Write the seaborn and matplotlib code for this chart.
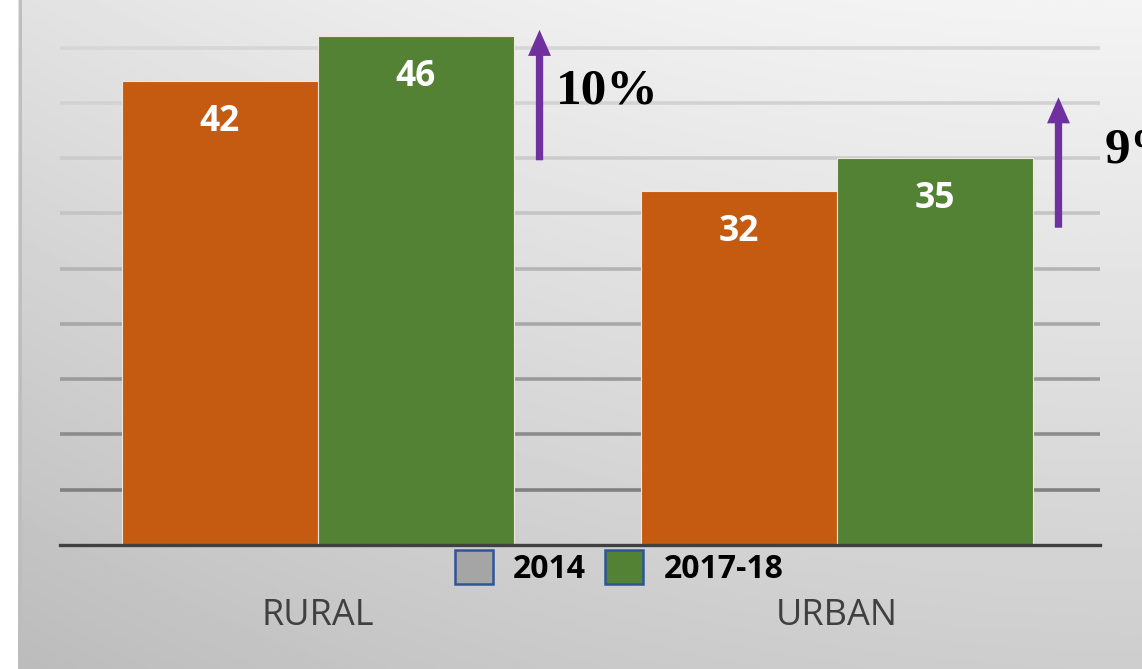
import numpy as np
import pandas as pd
import matplotlib
matplotlib.use('Agg')
import matplotlib.pyplot as plt
from matplotlib.patches import Patch, FancyArrowPatch
import seaborn as sns

areas = ['RURAL', 'URBAN']
years = ['2014', '2017-18']
pct_2014 = [42, 32]
pct_2018 = [46, 35]
growth_labels = ['10%', '9%']
# arrows next to each group (start / end on the value scale)
arrow_base = [34.8, 28.7]
arrow_tip = [46.6, 40.5]

bar_colors = ['#C55A11', '#548235']
legend_colors = ['#A5A5A5', '#548235']
grid_colors = ['#808080', '#8c8c8c', '#9a9a9a', '#a8a8a8', '#b4b4b4',
               '#c4c4c4', '#cccccc', '#d2d2d2', '#d6d6d6']

df = pd.DataFrame({
    'area': areas * 2,
    'year': [years[0]] * 2 + [years[1]] * 2,
    'pct': pct_2014 + pct_2018,
})

sns.set_style('white')
plt.rcParams['font.family'] = ['Open Sans', 'DejaVu Sans']

W, H = 1142, 669
fig = plt.figure(figsize=(W / 100, H / 100), dpi=100)
fig.patch.set_facecolor('white')

# grey gradient background (lighter top/right, darker bottom/left)
bg = fig.add_axes([18 / W, 0, 1 - 18 / W, 1], zorder=-1)
yy, xx = np.mgrid[0:1:300j, 0:1:600j]
shade = 0.955 - 0.15 * yy - 0.07 * (1 - xx) ** 2
bg.imshow(shade, cmap='gray', vmin=0, vmax=1, aspect='auto', extent=[0, 1, 0, 1])
bg.axvline(0.002, color='#bdbdbd', lw=2)
bg.set_axis_off()

ax = fig.add_axes([60 / W, 124 / H, 1040 / W, 545 / H])
ax.patch.set_visible(False)

sns.barplot(data=df, x='area', y='pct', hue='year', palette=bar_colors,
            width=0.755, saturation=1, edgecolor='#f0e6dc', linewidth=0.8,
            legend=False, ax=ax, zorder=3)

ax.set_xlim(-0.497, 1.507)
ax.set_ylim(0, 49.3)
ax.set_yticks(range(5, 50, 5))
ax.set_yticklabels([])
ax.grid(axis='y', lw=2.6, zorder=0)
for gl, c in zip(ax.get_ygridlines(), grid_colors):
    gl.set_color(c)
ax.set_axisbelow(True)

for s in ['top', 'left', 'right']:
    ax.spines[s].set_visible(False)
ax.spines['bottom'].set_color('#404040')
ax.spines['bottom'].set_linewidth(2.4)
ax.spines['bottom'].set_zorder(4)
ax.tick_params(axis='both', length=0)
ax.tick_params(axis='x', pad=38, labelsize=26, labelcolor='#404040')
ax.set_xlabel('')
ax.set_ylabel('')

# value labels inside bars
for cont in ax.containers:
    for p in cont:
        ax.annotate(f'{p.get_height():.0f}',
                    (p.get_x() + p.get_width() / 2, p.get_height()),
                    xytext=(0, -29.5), textcoords='offset points',
                    ha='center', va='center', color='white',
                    fontsize=25.5, fontweight='bold', zorder=5)

# growth arrows + labels
for i, (a, b) in enumerate(zip(arrow_base, arrow_tip)):
    x0 = i + 0.427
    arr = FancyArrowPatch((x0, a), (x0, b),
                          arrowstyle='simple,tail_width=0.35,head_width=1.1,head_length=1.25',
                          mutation_scale=15, color='#7030A0', lw=0,
                          shrinkA=0, shrinkB=0, clip_on=False, zorder=5)
    ax.add_patch(arr)

ax.text(0.458, 41.0, growth_labels[0], family='Liberation Serif', fontweight='bold',
        fontsize=37, ha='left', va='center', color='black', clip_on=False)
ax.text(1.515, 35.7, growth_labels[1], family='Liberation Serif', fontweight='bold',
        fontsize=37, ha='left', va='center', color='black', clip_on=False)

handles = [Patch(facecolor=c, edgecolor='#2F5597', lw=1.8) for c in legend_colors]
leg = ax.legend(handles, years, loc='center', bbox_to_anchor=(0.5375, -0.042),
                ncol=2, frameon=False, handlelength=1.2, handleheight=1.25,
                handletextpad=0.63, columnspacing=0.6, borderpad=0,
                labelcolor='black',
                prop={'family': 'Open Sans', 'weight': 'bold', 'size': 23})

fig.savefig('out.png', dpi=100)
